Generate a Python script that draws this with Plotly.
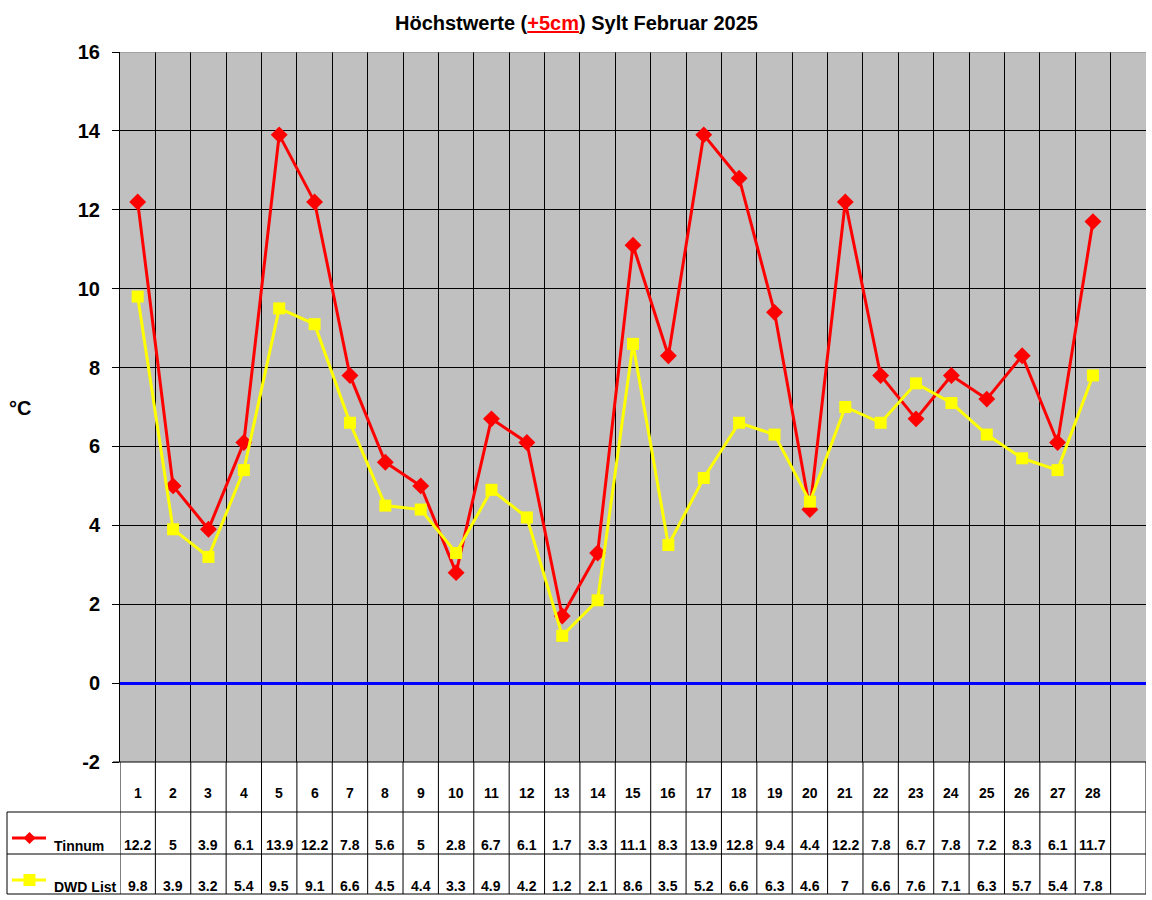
import plotly.graph_objects as go

# Februar 2025, Höchstwerte in °C
days = list(range(1, 29))
tinnum = [12.2, 5, 3.9, 6.1, 13.9, 12.2, 7.8, 5.6, 5, 2.8, 6.7, 6.1, 1.7, 3.3,
          11.1, 8.3, 13.9, 12.8, 9.4, 4.4, 12.2, 7.8, 6.7, 7.8, 7.2, 8.3, 6.1, 11.7]
dwd_list = [9.8, 3.9, 3.2, 5.4, 9.5, 9.1, 6.6, 4.5, 4.4, 3.3, 4.9, 4.2, 1.2, 2.1,
            8.6, 3.5, 5.2, 6.6, 6.3, 4.6, 7, 6.6, 7.6, 7.1, 6.3, 5.7, 5.4, 7.8]
series_names = ["Tinnum", "DWD List"]
y_ticks = list(range(-2, 17, 2))

W, H = 1152, 900
FONT = "Arial, Liberation Sans, sans-serif"
n_cols = len(days) + 1  # one empty column on the right


def py(p):
    # pixel row -> paper y
    return (H - p) / H


def fmt(v):
    return f"{v:g}"


fig = go.Figure()

fig.add_trace(go.Scatter(
    x=days, y=tinnum, mode="lines+markers", name=series_names[0],
    line=dict(color="#FF0000", width=3),
    marker=dict(symbol="diamond", size=13, color="#FF0000"),
))
fig.add_trace(go.Scatter(
    x=days, y=dwd_list, mode="lines+markers", name=series_names[1],
    line=dict(color="#FFFF00", width=3),
    marker=dict(symbol="square", size=12, color="#FFFF00"),
))

shapes = []
# top border of the plot area (gray)
shapes.append(dict(type="line", xref="x", yref="y", x0=0.5, x1=n_cols + 0.5, y0=16, y1=16,
                   line=dict(color="#808080", width=1)))
# column lines running through the table
for k in range(n_cols + 1):
    shapes.append(dict(type="line", xref="x", yref="paper", x0=k + 0.5, x1=k + 0.5,
                       y0=py(762), y1=py(894),
                       line=dict(color="black", width=1)))
# table horizontal lines
shapes.append(dict(type="line", xref="paper", yref="paper", x0=113 / W, x1=1146 / W,
                   y0=py(762), y1=py(762), line=dict(color="black", width=1)))
for row_y in (812, 854, 894):
    shapes.append(dict(type="line", xref="paper", yref="paper", x0=7 / W, x1=1146 / W,
                       y0=py(row_y), y1=py(row_y), line=dict(color="black", width=1)))
shapes.append(dict(type="line", xref="paper", yref="paper", x0=7 / W, x1=7 / W,
                   y0=py(812), y1=py(894), line=dict(color="black", width=1)))

# legend keys inside the table
for row_y, col, sym in ((838, "#FF0000", "diamond"), (880, "#FFFF00", "square")):
    shapes.append(dict(type="line", xref="paper", yref="paper", x0=12 / W, x1=46 / W,
                       y0=py(row_y), y1=py(row_y), line=dict(color=col, width=3)))
    cx, cy = 29.5, row_y
    if sym == "diamond":
        path = (f"M {(cx - 6) / W},{py(cy)} L {cx / W},{py(cy - 6)} "
                f"L {(cx + 6) / W},{py(cy)} L {cx / W},{py(cy + 6)} Z")
        shapes.append(dict(type="path", xref="paper", yref="paper", path=path,
                           fillcolor=col, line=dict(color=col, width=0)))
    else:
        shapes.append(dict(type="rect", xref="paper", yref="paper",
                           x0=(cx - 6) / W, x1=(cx + 6) / W, y0=py(cy + 6), y1=py(cy - 6),
                           fillcolor=col, line=dict(color=col, width=0)))

annotations = []
bold = dict(family=FONT, size=14, color="black")


def label(x, y, text, font, xref="x", xanchor="center"):
    return dict(x=x, y=y, xref=xref, yref="paper", xanchor=xanchor, yanchor="middle",
                text=text, showarrow=False, font=font)


for d, t, w in zip(days, tinnum, dwd_list):
    annotations.append(label(d, py(793), f"<b>{d}</b>", bold))
    annotations.append(label(d, py(845), f"<b>{fmt(t)}</b>", bold))
    annotations.append(label(d, py(886), f"<b>{fmt(w)}</b>", bold))
for name, row_y in zip(series_names, (846, 887)):
    annotations.append(label(52 / W, py(row_y), f"<b>{name}</b>", bold,
                             xref="paper", xanchor="left"))
annotations.append(label(20 / W, py(408), "<b>°C</b>",
                         dict(family=FONT, size=20, color="black"), xref="paper"))
annotations.append(label(576 / W, py(23),
                         "<b>Höchstwerte (<span style='color:#FF0000'><u>+5cm</u></span>) "
                         "Sylt Februar 2025</b>",
                         dict(family=FONT, size=20, color="black"), xref="paper"))

fig.update_layout(
    width=W, height=H,
    margin=dict(l=0, r=0, t=0, b=0),
    paper_bgcolor="white",
    plot_bgcolor="#C0C0C0",
    showlegend=False,
    shapes=shapes,
    annotations=annotations,
    xaxis=dict(
        domain=[120 / W, 1146 / W], range=[0.5, n_cols + 0.5],
        tickvals=[k + 0.5 for k in range(n_cols + 1)],
        showticklabels=False, ticks="", showgrid=True, gridcolor="black", gridwidth=1,
        zeroline=False, showline=False, fixedrange=True,
    ),
    yaxis=dict(
        domain=[py(762), py(52)], range=[-2, 16],
        tickvals=y_ticks, ticktext=[str(v) for v in y_ticks],
        ticks="outside", ticklen=7, tickcolor="black", tickwidth=1,
        tickfont=dict(family=FONT, size=20, color="black", weight="bold"),
        showgrid=True, gridcolor="black", gridwidth=1,
        zeroline=True, zerolinecolor="#0000FF", zerolinewidth=3,
        showline=True, linecolor="black", linewidth=1, ticklabelstandoff=8,
        fixedrange=True, automargin=False,
    ),
)

fig.write_html("out.html", config={"displayModeBar": False},
               post_script="document.body.style.margin = '0';")
